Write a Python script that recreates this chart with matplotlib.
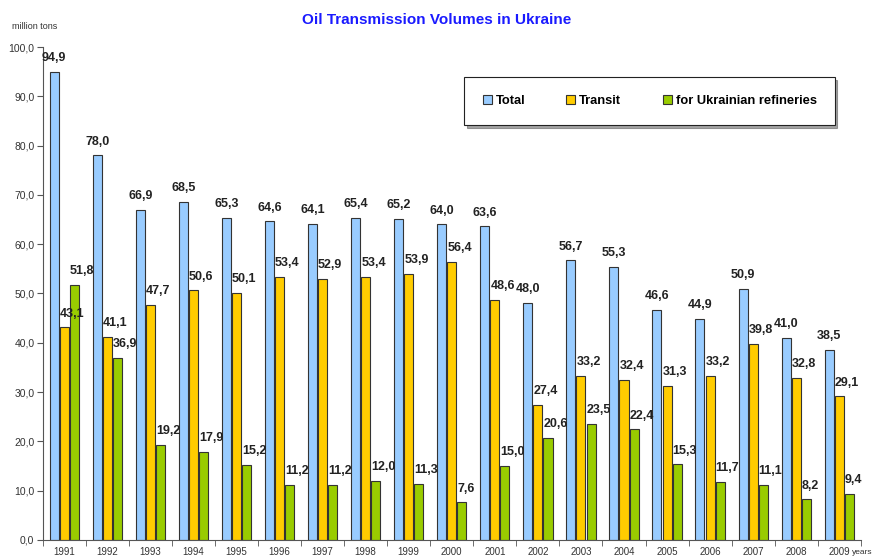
import matplotlib
matplotlib.use('Agg')
import matplotlib.pyplot as plt
import numpy as np

plt.rcParams['font.family'] = ['Liberation Sans', 'DejaVu Sans']

years = ['1991', '1992', '1993', '1994', '1995', '1996', '1997', '1998', '1999', '2000',
         '2001', '2002', '2003', '2004', '2005', '2006', '2007', '2008', '2009']
total = [94.9, 78.0, 66.9, 68.5, 65.3, 64.6, 64.1, 65.4, 65.2, 64.0,
         63.6, 48.0, 56.7, 55.3, 46.6, 44.9, 50.9, 41.0, 38.5]
transit = [43.1, 41.1, 47.7, 50.6, 50.1, 53.4, 52.9, 53.4, 53.9, 56.4,
           48.6, 27.4, 33.2, 32.4, 31.3, 33.2, 39.8, 32.8, 29.1]
refineries = [51.8, 36.9, 19.2, 17.9, 15.2, 11.2, 11.2, 12.0, 11.3, 7.6,
              15.0, 20.6, 23.5, 22.4, 15.3, 11.7, 11.1, 8.2, 9.4]


def fmt(v):
    return '{:.1f}'.format(v).replace('.', ',')


fig = plt.figure(figsize=(8.73, 5.60), dpi=100)
ax = fig.add_axes([0.049, 0.036, 0.937, 0.880])

x = np.arange(len(years))
w = 0.21
off = 0.235
ax.bar(x - off, total, w, color='#99ccff', edgecolor='#333333', linewidth=0.8, label='Total')
ax.bar(x, transit, w, color='#ffcc00', edgecolor='#333333', linewidth=0.8, label='Transit')
ax.bar(x + off, refineries, w, color='#99cc00', edgecolor='#333333', linewidth=0.8,
       label='for Ukrainian refineries')

for i in range(len(years)):
    ax.text(x[i] - off, total[i] + 1.6, fmt(total[i]), ha='center', va='bottom',
            fontsize=9, fontweight='bold', color='#222222')
    ax.text(x[i] - w / 2, transit[i] + 1.6, fmt(transit[i]), ha='left', va='bottom',
            fontsize=9, fontweight='bold', color='#222222')
    ax.text(x[i] + off - w / 2, refineries[i] + 1.6, fmt(refineries[i]), ha='left', va='bottom',
            fontsize=9, fontweight='bold', color='#222222')

ax.set_xlim(-0.5, len(years) - 0.5)
ax.set_ylim(0, 100)
ax.set_yticks(np.arange(0, 101, 10))
ax.set_yticklabels([fmt(v) for v in np.arange(0, 101, 10)], fontsize=7.5, color='#333333')
ax.set_xticks(x)
ax.set_xticklabels(years, fontsize=7, color='#333333')
ax.set_xticks(np.arange(-0.5, len(years), 1), minor=True)
ax.tick_params(axis='x', which='major', length=0, pad=5)
ax.tick_params(axis='x', which='minor', length=4, color='#555555')
ax.tick_params(axis='y', length=4, color='#555555', pad=2)
ax.spines['top'].set_visible(False)
ax.spines['right'].set_visible(False)
ax.spines['left'].set_color('#555555')
ax.spines['bottom'].set_color('#555555')

fig.text(0.5, 0.964, 'Oil Transmission Volumes in Ukraine', ha='center', va='center',
         fontsize=11, fontweight='bold', color='#1a1aff')
fig.text(0.014, 0.953, 'million tons', ha='left', va='center', fontsize=6.5, color='#333333')
fig.text(0.999, 0.013, 'years', ha='right', va='center', fontsize=6, color='#333333')

leg = ax.legend(loc='upper right', bbox_to_anchor=(0.976, 0.952), ncol=3,
                frameon=True, fancybox=False, shadow=True, edgecolor='#222222',
                handlelength=0.7, handleheight=0.7, columnspacing=3.2, handletextpad=0.3,
                borderpad=1.4, prop={'weight': 'bold', 'size': 9.3})
leg.get_frame().set_linewidth(0.8)

fig.savefig('out.png', dpi=100)
